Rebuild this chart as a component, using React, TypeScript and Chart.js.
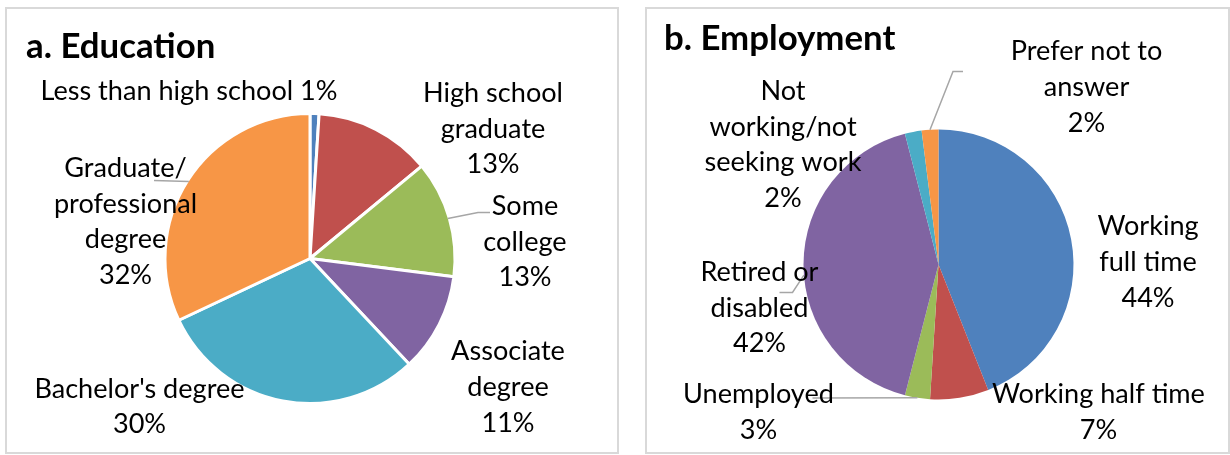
import React, { useEffect, useRef } from "react";
import { Chart, registerables } from "chart.js";
Chart.register(...registerables);

// ---------- DATA ----------
const eduCategories = [
  "Less than high school",
  "High school graduate",
  "Some college",
  "Associate degree",
  "Bachelor's degree",
  "Graduate/ professional degree",
];
const eduValues = [1, 13, 13, 11, 30, 32];
const eduLabelLines = [
  ["Less than high school {p}"],
  ["High school", "graduate", "{p}"],
  ["Some", "college", "{p}"],
  ["Associate", "degree", "{p}"],
  ["Bachelor's degree", "{p}"],
  ["Graduate/", "professional", "degree", "{p}"],
];

const empCategories = [
  "Working full time",
  "Working half time",
  "Unemployed",
  "Retired or disabled",
  "Not working/not seeking work",
  "Prefer not to answer",
];
const empValues = [44, 7, 3, 42, 2, 2];
const empLabelLines = [
  ["Working", "full time", "{p}"],
  ["Working half time", "{p}"],
  ["Unemployed", "{p}"],
  ["Retired or", "disabled", "{p}"],
  ["Not", "working/not", "seeking work", "{p}"],
  ["Prefer not to", "answer", "{p}"],
];

const sliceColors = ["#4F81BD", "#C0504D", "#9BBB59", "#8064A2", "#4BACC6", "#F79646"];

// ---------- LAYOUT (label block centres relative to pie centre) ----------
const eduLabelOffsets = [
  [-121, -169],
  [183, -131],
  [215, -18],
  [198, 127.5],
  [-170.5, 147],
  [-184.5, -38],
];
const eduLeaders = [
  { index: 5, frac: 0.5, points: [[-156, -78]] },
  { index: 2, frac: 0.5, points: [[180, -46], [168, -46]] },
];
const empLabelOffsets = [
  [209.5, -3.5],
  [160, 146.5],
  [-180, 146.5],
  [-179, 42],
  [-155.5, -121],
  [148, -178.5],
];
const empLeaders = [
  { index: 5, frac: 0.5, points: [[24.5, -193], [14.5, -193]] },
  { index: 3, frac: 0.47, points: [[-159, 28], [-146, 28]] },
  { index: 2, frac: 0.5, points: [[-126, 133.5]] },
];

const FONT = "Lato, 'Open Sans', sans-serif";
const LABEL_SIZE = 27.1;
const TITLE_SIZE = 34.8;
const LINE_H = 35.6;

type PieSpec = {
  title: string;
  titleX: number;
  titleY: number;
  categories: string[];
  values: number[];
  lines: string[][];
  offsets: number[][];
  leaders: { index: number; frac: number; points: number[][] }[];
  borderWidth: number;
  padding: { left: number; top: number; right: number; bottom: number };
  width: number;
  height: number;
};

const labelPlugin = {
  id: "pieLabels",
  afterDatasetsDraw(chart: any, _args: any, opts: any) {
    const spec: PieSpec = opts.spec;
    const ctx = chart.ctx;
    const meta = chart.getDatasetMeta(0);
    const arcs = meta.data;
    if (!arcs.length) return;
    const cx = arcs[0].x;
    const cy = arcs[0].y;
    const total = spec.values.reduce((a, b) => a + b, 0);
    ctx.save();
    // leader lines
    ctx.strokeStyle = "#A6A6A6";
    ctx.lineWidth = 1.5;
    spec.leaders.forEach((ld) => {
      const arc = arcs[ld.index];
      const a = arc.startAngle + ld.frac * (arc.endAngle - arc.startAngle);
      const r = arc.outerRadius - spec.borderWidth / 2;
      ctx.beginPath();
      ld.points.forEach((p, i) => {
        if (i === 0) ctx.moveTo(cx + p[0], cy + p[1]);
        else ctx.lineTo(cx + p[0], cy + p[1]);
      });
      ctx.lineTo(cx + r * Math.cos(a), cy + r * Math.sin(a));
      ctx.stroke();
    });
    // labels
    ctx.fillStyle = "#000000";
    ctx.font = `${LABEL_SIZE}px ${FONT}`;
    ctx.textAlign = "center";
    ctx.textBaseline = "alphabetic";
    const capH = ctx.measureText("H").actualBoundingBoxAscent;
    spec.lines.forEach((lines, i) => {
      const pct = Math.round((spec.values[i] / total) * 100) + "%";
      const txt = lines.map((l) => l.replace("{p}", pct));
      const [dx, dy] = spec.offsets[i];
      const n = txt.length;
      txt.forEach((t, k) => {
        const yc = cy + dy + (k - (n - 1) / 2) * LINE_H;
        ctx.fillText(t, cx + dx, yc + capH / 2);
      });
    });
    // title
    ctx.font = `bold ${TITLE_SIZE}px ${FONT}`;
    ctx.textAlign = "left";
    ctx.fillText(spec.title, spec.titleX, spec.titleY);
    ctx.restore();
  },
};

function PieBox({ spec, left, top }: { spec: PieSpec; left: number; top: number }) {
  const ref = useRef<HTMLCanvasElement | null>(null);
  useEffect(() => {
    if (!ref.current) return;
    const chart = new Chart(ref.current, {
      type: "pie",
      data: {
        labels: spec.categories,
        datasets: [
          {
            data: spec.values,
            backgroundColor: sliceColors,
            borderColor: "#FFFFFF",
            borderWidth: spec.borderWidth,
            hoverBorderWidth: spec.borderWidth,
            offset: 0,
            hoverOffset: 0,
          },
        ],
      },
      options: {
        responsive: false,
        animation: false,
        devicePixelRatio: 1,
        layout: { padding: spec.padding },
        events: [],
        plugins: {
          legend: { display: false },
          tooltip: { enabled: false },
          pieLabels: { spec },
        } as any,
      },
      plugins: [labelPlugin],
    });
    return () => chart.destroy();
  }, [spec]);
  return (
    <div
      style={{
        position: "absolute",
        left,
        top,
        width: spec.width + 4,
        height: spec.height + 4,
        boxSizing: "border-box",
        border: "2px solid #D9D9D9",
        background: "#FFFFFF",
      }}
    >
      <canvas
        ref={ref}
        width={spec.width}
        height={spec.height}
        style={{ display: "block", width: spec.width, height: spec.height }}
      />
    </div>
  );
}

const eduSpec: PieSpec = {
  title: "a. Education",
  titleX: 19,
  titleY: 48.5,
  categories: eduCategories,
  values: eduValues,
  lines: eduLabelLines,
  offsets: eduLabelOffsets,
  leaders: eduLeaders,
  borderWidth: 3,
  padding: { left: 156.5, top: 103, right: 160.5, bottom: 47 },
  width: 610,
  height: 443,
};

const empSpec: PieSpec = {
  title: "b. Employment",
  titleX: 17,
  titleY: 40.5,
  categories: empCategories,
  values: empValues,
  lines: empLabelLines,
  offsets: empLabelOffsets,
  leaders: empLeaders,
  borderWidth: 0,
  padding: { left: 156.5, top: 120.5, right: 154.5, bottom: 52.5 },
  width: 581,
  height: 443,
};

export default function App() {
  useEffect(() => {
    document.body.style.margin = "0";
    document.body.style.background = "#FFFFFF";
  }, []);
  return (
    <div style={{ position: "relative", width: 1230, height: 455, overflow: "hidden" }}>
      <PieBox spec={eduSpec} left={5} top={7} />
      <PieBox spec={empSpec} left={645} top={7} />
    </div>
  );
}
